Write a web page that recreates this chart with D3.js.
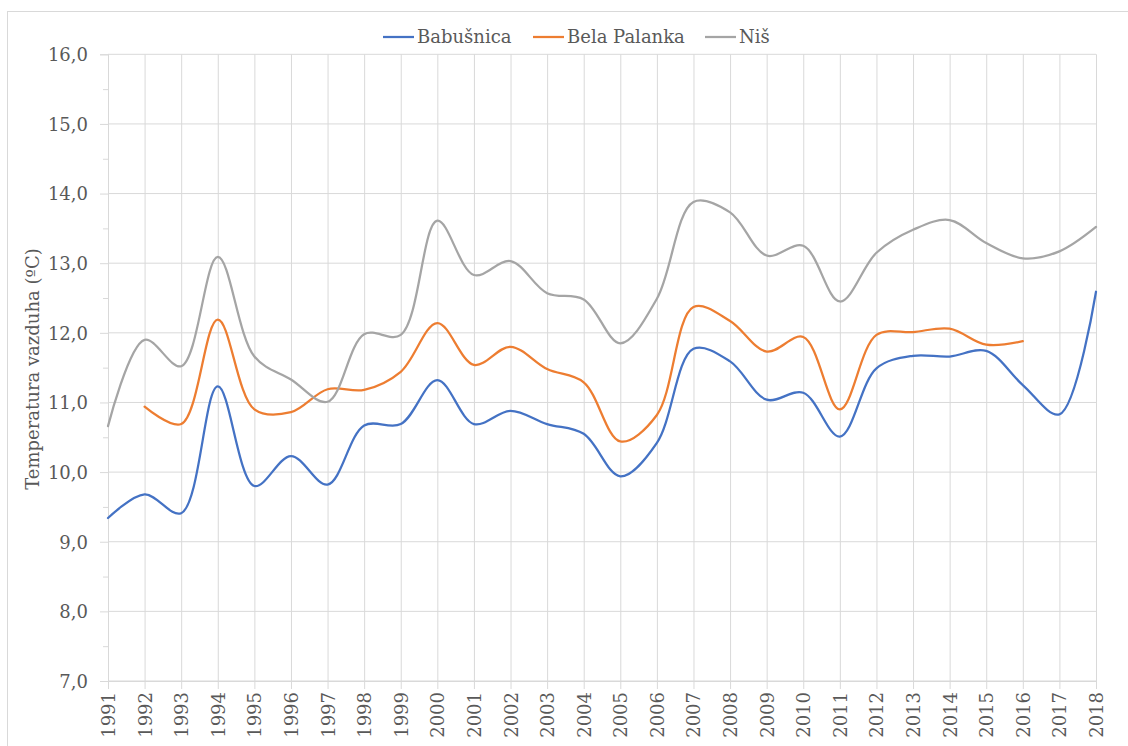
<!DOCTYPE html>
<html>
<head>
<meta charset="utf-8">
<script src="https://cdn.jsdelivr.net/npm/d3@7"></script>
<style>
    body { margin: 0; background: #fff; }
    svg { display: block; }
    svg text { font-family: "DejaVu Serif", serif; }
</style>
</head>
<body>
<svg id="chart"></svg>
<script>
const years = [1991, 1992, 1993, 1994, 1995, 1996, 1997, 1998, 1999, 2000, 2001, 2002, 2003, 2004,
    2005, 2006, 2007, 2008, 2009, 2010, 2011, 2012, 2013, 2014, 2015, 2016, 2017, 2018]
const babusnica = [9.34, 9.68, 9.41, 11.23, 9.80, 10.23, 9.82, 10.67, 10.69, 11.32, 10.69, 10.88, 10.69, 10.55,
    9.94, 10.42, 11.77, 11.59, 11.04, 11.14, 10.51, 11.49, 11.67, 11.66, 11.74, 11.25, 10.83, 12.59]
const belaPalanka = [null, 10.94, 10.69, 12.19, 10.90, 10.86, 11.19, 11.18, 11.44, 12.14, 11.54, 11.80, 11.48, 11.29,
    10.44, 10.82, 12.37, 12.17, 11.73, 11.94, 10.90, 11.97, 12.01, 12.06, 11.83, 11.88, null, null]
const nis = [10.66, 11.90, 11.52, 13.09, 11.66, 11.33, 11.01, 11.98, 11.97, 13.61, 12.83, 13.03, 12.57, 12.48,
    11.85, 12.49, 13.88, 13.73, 13.11, 13.25, 12.45, 13.15, 13.48, 13.62, 13.29, 13.07, 13.17, 13.52]
const seriesNames = ["Babušnica", "Bela Palanka", "Niš"]
const yTicks = [7, 8, 9, 10, 11, 12, 13, 14, 15, 16]
const yTitle = "Temperatura vazduha (ºC)"

const width = 1128, height = 746
const margin = { top: 54.3, left: 108, bottom: 65, right: 32 }
const colors = ["#4472C4", "#ED7D31", "#A5A5A5"]
const gridColor = "#D9D9D9"
const textColor = "#595959"

const svg = d3.select("#chart").attr("width", width).attr("height", height)

// outer frame of the chart object
svg.append("rect")
    .attr("x", 7.5).attr("y", 11.5)
    .attr("width", width).attr("height", height)
    .attr("fill", "none").attr("stroke", gridColor)

const x = d3.scaleLinear()
    .domain([years[0], years[years.length - 1]])
    .range([margin.left, width - margin.right])
const y = d3.scaleLinear()
    .domain([7, 16])
    .range([height - margin.bottom, margin.top])

// horizontal grid + left ticks
const yAxis = svg.append("g")
    .attr("transform", "translate(" + margin.left + ",0)")
    .call(d3.axisLeft(y)
        .tickValues(yTicks)
        .tickSize(8)
        .tickPadding(12)
        .tickFormat(d => d3.format(".1f")(d).replace(".", ",")))
    .attr("font-family", null)
    .attr("font-size", null)
yAxis.select(".domain").attr("stroke", gridColor)
yAxis.selectAll(".tick line").attr("stroke", gridColor)
yAxis.selectAll(".tick text")
    .attr("fill", textColor).style("font-size", "18px")
    .attr("dy", "0.35em")
yAxis.selectAll(".grid")
    .data(yTicks)
    .enter().append("line")
    .attr("x1", 0).attr("x2", x.range()[1] - margin.left)
    .attr("y1", d => y(d)).attr("y2", d => y(d))
    .attr("stroke", gridColor)

// minor ticks at half degrees
const yMinor = svg.append("g")
    .attr("transform", "translate(" + margin.left + ",0)")
    .call(d3.axisLeft(y)
        .tickValues(yTicks.slice(0, -1).map(d => d + 0.5))
        .tickSize(5)
        .tickFormat(""))
yMinor.select(".domain").remove()
yMinor.selectAll(".tick line").attr("stroke", gridColor)

// vertical grid + bottom ticks
const xAxis = svg.append("g")
    .attr("transform", "translate(0," + y(7) + ")")
    .call(d3.axisBottom(x)
        .tickValues(years)
        .tickSize(8)
        .tickFormat(d3.format("d")))
    .attr("font-family", null)
    .attr("font-size", null)
xAxis.select(".domain").attr("stroke", gridColor)
xAxis.selectAll(".tick line").attr("stroke", gridColor)
xAxis.selectAll(".tick").append("line")
    .attr("y1", 0).attr("y2", y(16) - y(7))
    .attr("stroke", gridColor)
xAxis.selectAll(".tick text")
    .attr("fill", textColor).style("font-size", "18px")
    .attr("transform", "rotate(-90)")
    .attr("text-anchor", "end")
    .attr("x", -11).attr("y", 0)
    .attr("dy", "0.36em")

// y axis title
svg.append("text")
    .attr("transform", "translate(33," + 369 + ") rotate(-90)")
    .attr("text-anchor", "middle")
    .attr("dy", "0.35em")
    .attr("fill", textColor)
    .style("font-size", "18px")
    .text(yTitle)

// lines
const line = d3.line()
    .defined(d => d.v !== null)
    .x(d => x(d.year))
    .y(d => y(d.v))
    .curve(d3.curveCatmullRom.alpha(0.5))

const allSeries = [babusnica, belaPalanka, nis]
allSeries.forEach((vals, i) => {
    svg.append("path")
        .datum(years.map((yr, j) => ({ year: yr, v: vals[j] })))
        .attr("d", line)
        .attr("fill", "none")
        .attr("stroke", colors[i])
        .attr("stroke-width", 2.25)
        .attr("stroke-linecap", "round")
        .attr("stroke-linejoin", "round")
})

// legend
const legendX = [383, 533, 705]
const legend = svg.append("g")
seriesNames.forEach((name, i) => {
    legend.append("line")
        .attr("x1", legendX[i]).attr("x2", legendX[i] + 31)
        .attr("y1", 37).attr("y2", 37)
        .attr("stroke", colors[i]).attr("stroke-width", 2.25)
    legend.append("text")
        .attr("x", legendX[i] + 34).attr("y", 37)
        .attr("dy", "0.35em")
        .attr("fill", textColor)
        .style("font-size", "18px")
        .text(name)
})
</script>
</body>
</html>
